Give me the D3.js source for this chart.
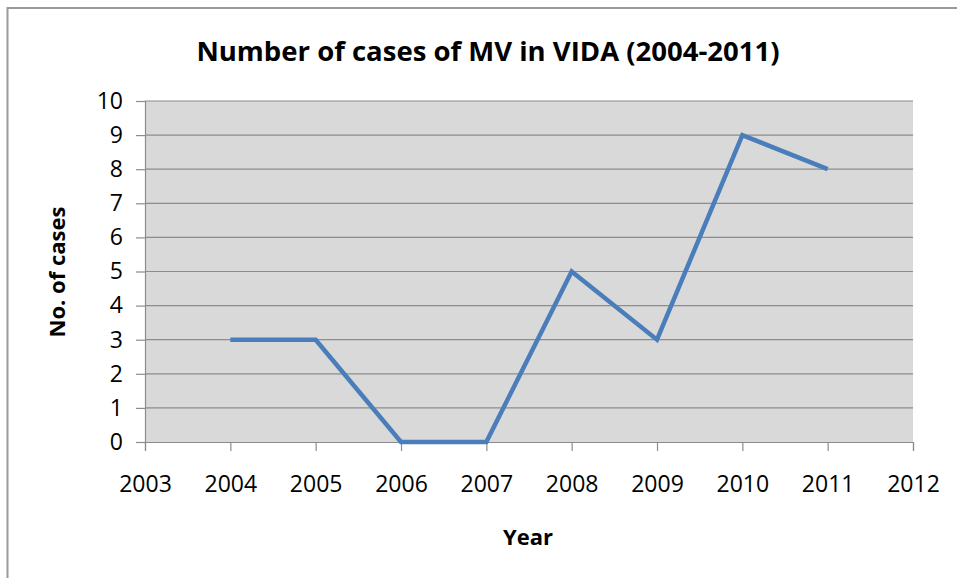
<!DOCTYPE html>
<html>
<head>
<meta charset="utf-8">
<script src="https://cdn.jsdelivr.net/npm/d3@7"></script>
<style>
  body { margin: 0; background: #fff; }
  text { font-family: "Open Sans", "Noto Sans", sans-serif; fill: #000; }
</style>
</head>
<body>
<div id="chart"></div>
<script>
// Data
const years = [2004, 2005, 2006, 2007, 2008, 2009, 2010, 2011];
const cases = [3, 3, 0, 0, 5, 3, 9, 8];
const xTicks = [2003, 2004, 2005, 2006, 2007, 2008, 2009, 2010, 2011, 2012];
const yTicks = [0, 1, 2, 3, 4, 5, 6, 7, 8, 9, 10];

const W = 957, H = 578;
const margin = {top: 101, right: 44, bottom: 136, left: 145};
const width = W - margin.left - margin.right,
    height = H - margin.top - margin.bottom;

const svg = d3.select("#chart").append("svg")
    .attr("width", W)
    .attr("height", H);

// outer chart border (runs off the right and bottom edge)
svg.append("rect")
    .attr("x", 7.5).attr("y", 8)
    .attr("width", W + 20).attr("height", H + 20)
    .attr("fill", "none")
    .attr("stroke", "#9a9a9a")
    .attr("stroke-width", 2);

const g = svg.append("g")
    .attr("transform", `translate(${margin.left},${margin.top})`);

const x = d3.scaleLinear().domain([2003, 2012]).range([0, width]);
const y = d3.scaleLinear().domain([0, 10]).range([height, 0]);

// plot background
g.append("rect")
    .attr("width", width).attr("height", height)
    .attr("fill", "#d9d9d9");

// gridlines
g.append("g")
    .selectAll("line")
    .data(yTicks.filter(d => d > 0))
    .enter().append("line")
    .attr("x1", 0).attr("x2", width)
    .attr("y1", d => y(d)).attr("y2", d => y(d))
    .attr("stroke", "#8c8c8c")
    .attr("stroke-width", 1.2);

// y axis
const yAxis = g.append("g")
    .call(d3.axisLeft(y).tickValues(yTicks).tickSize(9).tickPadding(13).tickFormat(d3.format("d")));
yAxis.selectAll("text").attr("font-size", "23px").style("font-family", "'Open Sans', sans-serif");

// x axis
const xAxis = g.append("g")
    .attr("transform", `translate(0,${height})`)
    .call(d3.axisBottom(x).tickValues(xTicks).tickSize(9).tickPadding(25).tickFormat(d3.format("d")));
xAxis.selectAll("text").attr("font-size", "23px").style("font-family", "'Open Sans', sans-serif");

[yAxis, xAxis].forEach(a => {
    a.selectAll("path, line").attr("stroke", "#8c8c8c").attr("stroke-width", 1.2);
});

// line
const line = d3.line()
    .x((d, i) => x(years[i]))
    .y(d => y(d));
g.append("path")
    .datum(cases)
    .attr("d", line)
    .attr("fill", "none")
    .attr("stroke", "#4a7ebb")
    .attr("stroke-width", 4.5)
    .attr("stroke-linejoin", "miter");

// title
svg.append("text")
    .attr("x", 488).attr("y", 61)
    .attr("text-anchor", "middle")
    .attr("font-size", "27.5px")
    .attr("font-weight", "bold")
    .text("Number of cases of MV in VIDA (2004-2011)");

// axis titles
svg.append("text")
    .attr("x", 528).attr("y", 545)
    .attr("text-anchor", "middle")
    .attr("font-size", "22px")
    .attr("font-weight", "bold")
    .text("Year");

svg.append("text")
    .attr("transform", "translate(65,272) rotate(-90)")
    .attr("text-anchor", "middle")
    .attr("font-size", "22px")
    .attr("font-weight", "bold")
    .text("No. of cases");
</script>
</body>
</html>
